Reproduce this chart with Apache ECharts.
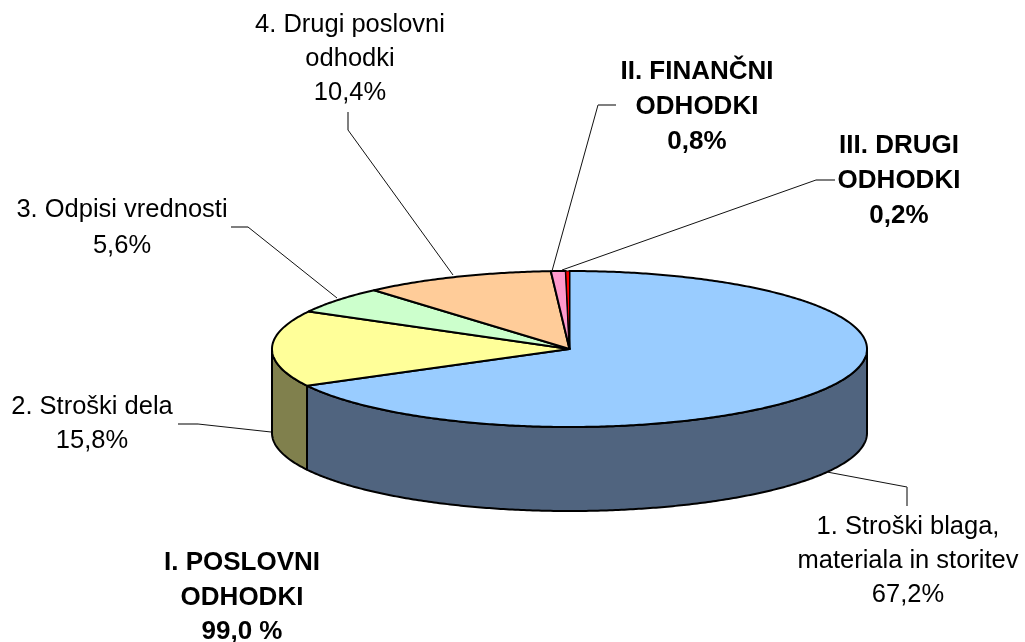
<!DOCTYPE html>
<html><head><meta charset="utf-8">
<style>html,body{margin:0;padding:0;background:#fff}#c{width:1025px;height:642px}</style>
<script src="https://cdn.jsdelivr.net/npm/echarts@6/dist/echarts.min.js"></script>
</head><body><div id="c"></div>
<script>
// Data
const categories = ['1. Stroški blaga,\nmateriala in storitev','2. Stroški dela','3. Odpisi vrednosti','4. Drugi poslovni\nodhodki','II. FINANČNI\nODHODKI','III. DRUGI\nODHODKI'];
const values = [67.2,15.8,5.6,10.4,0.8,0.2];
const valueLabels = ['67,2%','15,8%','5,6%','10,4%','0,8%','0,2%'];
const groupTitle = 'I. POSLOVNI\nODHODKI\n99,0 %';
const boldFlags = [false,false,false,false,true,true];
// Colours
const topColors = ['#99CCFF','#FFFF99','#CCFFCC','#FFCC99','#FF99CC','#FF0000'];
const sideColors = ['#50647F','#80804D','#668066','#806650','#804D66','#800000'];
// Layout
const CX=569.5, CY=349, RX=297.5, RY=78, DEPTH=84;
const labelPos = [[908,527],[92,407],[122,209],[350,25],[697,71],[899,145]];
const labelLine = [34,34,36,34,35,35];
const groupPos = [242,563];
const leaders = [
 [[827,472],[907,487],[907,506]],
 [[271,432],[198,424],[178,424]],
 [[337,298],[248,227],[231,227]],
 [[453,275],[348,130],[348,112]],
 [[552,271],[598,105],[616,105]],
 [[562,270],[816,180],[835,180]]
];
const total = values.reduce((a,b)=>a+b,0);
const starts=[]; let acc=0; values.forEach(v=>{starts.push(acc/total*Math.PI*2); acc+=v;});
const pt=(t,dy)=>[CX+RX*Math.sin(t), CY-RY*Math.cos(t)+(dy||0)];
function arc(a,b,dy){const n=Math.max(2,Math.ceil((b-a)/0.01));const p=[];for(let i=0;i<=n;i++)p.push(pt(a+(b-a)*i/n,dy));return p;}
const sliceData=values.map((v,i)=>({name:categories[i],value:v}));
const lineStyle={stroke:'#000',lineWidth:2,lineJoin:'round'};

const wallSeries={type:'custom',coordinateSystem:'none',silent:true,animation:false,z:2,data:sliceData,
 renderItem(p,api){
  const i=p.dataIndex,a=starts[i],b=a+api.value(0)/total*Math.PI*2;
  const lo=Math.max(a,Math.PI/2),hi=Math.min(b,Math.PI*1.5);
  if(hi<=lo) return {type:'group',children:[]};
  const pts=arc(lo,hi,0).concat(arc(lo,hi,DEPTH).reverse());
  return {type:'polygon',shape:{points:pts},style:{fill:sideColors[i],...lineStyle}};
 },encode:{value:0}};
const topSeries={type:'custom',coordinateSystem:'none',silent:true,animation:false,z:3,data:sliceData,
 renderItem(p,api){
  const i=p.dataIndex,a=starts[i],b=a+api.value(0)/total*Math.PI*2;
  const pts=[[CX,CY]].concat(arc(a,b,0));
  const thin=api.value(0)<0.5;
  return {type:'polygon',shape:{points:pts},style:{fill:topColors[i],...lineStyle,lineWidth:thin?1:2}};
 },encode:{value:0}};
const labelSeries={type:'custom',coordinateSystem:'none',silent:true,animation:false,z:4,data:sliceData,
 renderItem(p){
  const i=p.dataIndex,bold=boldFlags[i],L=leaders[i];
  return {type:'group',children:[
   {type:'polyline',shape:{points:L.slice(0,2)},style:{stroke:'#111',lineWidth:1,fill:null}},
   {type:'polyline',shape:{points:L.slice(1)},style:{stroke:'#555',lineWidth:1.5,fill:null}},
   {type:'text',style:{x:labelPos[i][0],y:labelPos[i][1]-17,text:categories[i]+'\n'+valueLabels[i],align:'center',verticalAlign:'top',
     font:(bold?'bold 26px':'25.5px')+' "Liberation Sans", Arial, sans-serif',lineHeight:labelLine[i],fill:'#000'}}
  ]};
 },encode:{value:0}};
const titleSeries={type:'custom',coordinateSystem:'none',silent:true,animation:false,z:4,data:[0],
 renderItem(){
  return {type:'text',style:{x:groupPos[0],y:groupPos[1]-17,text:groupTitle,align:'center',verticalAlign:'top',
   font:'bold 26px "Liberation Sans", Arial, sans-serif',lineHeight:34.5,fill:'#000'}};
 }};
const chart=echarts.init(document.getElementById('c'),null,{renderer:'canvas'});
chart.setOption({animation:false,backgroundColor:'#fff',series:[wallSeries,topSeries,labelSeries,titleSeries]});
</script></body></html>
